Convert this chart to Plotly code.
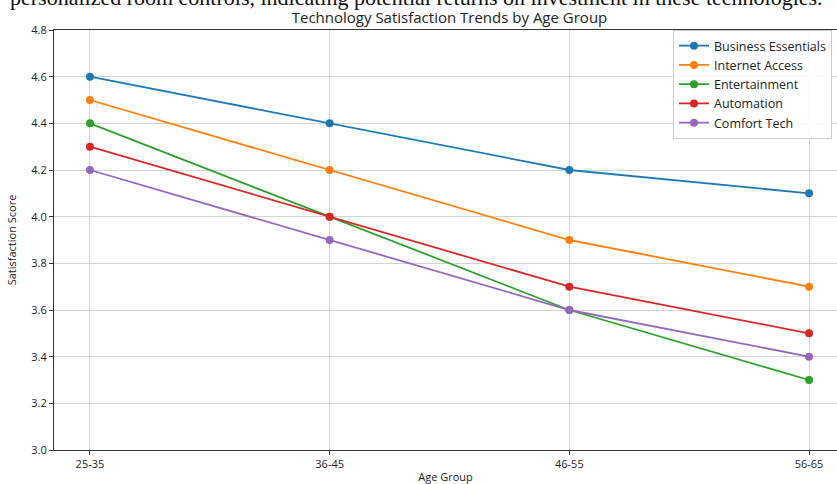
import plotly.graph_objects as go

age_groups = ["25-35", "36-45", "46-55", "56-65"]
business_essentials = [4.6, 4.4, 4.2, 4.1]
internet_access = [4.5, 4.2, 3.9, 3.7]
entertainment = [4.4, 4.0, 3.6, 3.3]
automation = [4.3, 4.0, 3.7, 3.5]
comfort_tech = [4.2, 3.9, 3.6, 3.4]
y_ticks = [3.0, 3.2, 3.4, 3.6, 3.8, 4.0, 4.2, 4.4, 4.6, 4.8]

series = [
    ("Business Essentials", business_essentials, "#1f77b4"),
    ("Internet Access", internet_access, "#ff7f0e"),
    ("Entertainment", entertainment, "#2ca02c"),
    ("Automation", automation, "#d62728"),
    ("Comfort Tech", comfort_tech, "#9467bd"),
]

FONT = "Open Sans"
fig = go.Figure()
x_idx = list(range(len(age_groups)))
for name, vals, col in series:
    fig.add_trace(go.Scatter(
        x=x_idx, y=vals, name=name, mode="lines+markers",
        line=dict(color=col, width=1.8),
        marker=dict(color=col, size=8),
    ))

W, H = 837, 484
ml, mr, mt, mb = 54, 0, 30, 34
PH = H - mt - mb
PW = W - ml - mr
fig.update_layout(
    width=W, height=H,
    margin=dict(l=ml, r=mr, t=mt, b=mb, autoexpand=False),
    paper_bgcolor="white", plot_bgcolor="white",
    font=dict(family=FONT, color="#333333", size=11),
    title=dict(text="Technology Satisfaction Trends by Age Group",
               x=449.5 / W, xanchor="center", y=1 - 18 / H, yanchor="middle",
               font=dict(family=FONT, size=15, color="#222222")),
    showlegend=True,
    legend=dict(x=(673 - ml) / PW, xanchor="left", y=1.0, yanchor="top",
                bgcolor="rgba(255,255,255,0.85)", bordercolor="#cccccc", borderwidth=1,
                font=dict(family=FONT, size=12.5, color="#222222"),
                itemwidth=30, tracegroupgap=0),
)
fig.update_xaxes(
    tickmode="array", tickvals=x_idx, ticktext=age_groups,
    range=[-0.15, 3.15 - 8 / 239.5],
    automargin=False,
    showgrid=True, gridcolor="#d3d3d3", gridwidth=1,
    showline=True, linecolor="#333333", linewidth=1, mirror=True,
    ticks="outside", ticklen=4, tickcolor="#333333",
    zeroline=False,
    title=dict(text="Age Group", font=dict(family=FONT, size=11, color="#222222"), standoff=4),
    tickfont=dict(family=FONT, size=11, color="#222222"),
)
fig.update_yaxes(
    tickmode="array", tickvals=y_ticks, ticktext=[f"{v:.1f}" for v in y_ticks],
    range=[3.0, 4.8],
    automargin=False,
    showgrid=True, gridcolor="#d3d3d3", gridwidth=1,
    showline=True, linecolor="#333333", linewidth=1, mirror=True,
    ticks="outside", ticklen=4, tickcolor="#333333",
    zeroline=False,
    title=dict(text="Satisfaction Score", font=dict(family=FONT, size=11, color="#222222"), standoff=12),
    tickfont=dict(family=FONT, size=11, color="#222222"),
)

fig.add_annotation(
    text="personalized room controls, indicating potential returns on investment in these technologies.",
    xref="paper", yref="paper", x=(8 - ml) / PW, xanchor="left",
    y=1 + (mt + 3) / PH, yanchor="middle", showarrow=False,
    font=dict(family="Liberation Serif", size=22, color="#111111"),
)

fig.write_html("out.html", config={"displayModeBar": False},
               post_script="document.body.style.margin='0';document.body.style.overflow='hidden';")
